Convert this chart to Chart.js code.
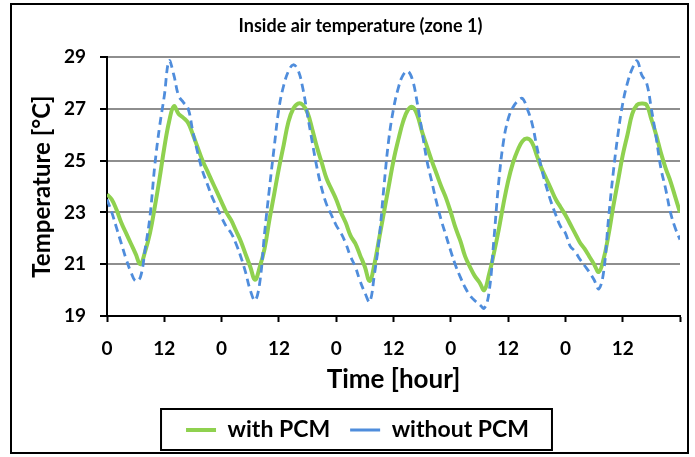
<!DOCTYPE html>
<html>
<head>
<meta charset="utf-8">
<title>Inside air temperature (zone 1)</title>
<script src="https://cdn.jsdelivr.net/npm/chart.js@4.4.1/dist/chart.umd.min.js"></script>
<style>
  html, body { margin: 0; padding: 0; background: #fff; }
  #wrap { width: 695px; height: 457px; }
</style>
</head>
<body>
<div id="wrap"><canvas id="tempChart" width="695" height="457"></canvas></div>
<script>
// hourly readings over five days
const hours = Array.from({ length: 121 }, (_, i) => i);

const withPCM = [
  23.7, 23.5, 23.1, 22.6, 22.2, 21.8, 21.4, 21.0, 21.5, 22.2,
  23.2, 24.3, 25.5, 26.5, 27.1, 26.8, 26.65, 26.45, 26.0, 25.5,
  25.0, 24.6, 24.2, 23.8, 23.4, 23.0, 22.7, 22.3, 21.9, 21.4,
  20.9, 20.4, 20.9, 21.6, 22.7, 23.7, 24.7, 25.6, 26.5, 27.0,
  27.2, 27.15, 26.85, 26.2, 25.5, 24.9, 24.3, 23.9, 23.5, 23.0,
  22.6, 22.1, 21.8, 21.35, 20.9, 20.35, 21.0, 22.0, 23.0, 24.0,
  25.0, 25.8, 26.5, 26.95, 27.07, 26.75, 26.1, 25.55, 25.0, 24.5,
  24.0, 23.55, 23.0, 22.4, 21.9, 21.3, 20.9, 20.55, 20.3, 20.0,
  20.6, 21.4, 22.3, 23.3, 24.2, 24.9, 25.4, 25.75, 25.85, 25.7,
  25.2, 24.7, 24.3, 23.9, 23.5, 23.2, 22.9, 22.55, 22.2, 21.85,
  21.6, 21.3, 21.0, 20.7, 21.2, 22.1, 23.2, 24.2, 25.2, 26.0,
  26.8, 27.15, 27.2, 27.15, 26.6, 26.0, 25.3, 24.7, 24.2, 23.6,
  23.0
];

const withoutPCM = [
  23.5, 23.0, 22.4, 21.8, 21.2, 20.7, 20.35, 20.5, 21.6, 22.85,
  24.8, 26.3, 27.5, 28.85, 28.3, 27.5, 27.25, 27.0, 26.1, 25.3,
  24.6, 24.1, 23.6, 23.2, 22.8, 22.45, 22.2, 21.8, 21.3, 20.7,
  20.0, 19.6, 20.3, 22.2, 23.9, 25.5, 27.0, 27.9, 28.45, 28.7,
  28.5, 27.8, 26.75, 25.7, 24.7, 23.9, 23.3, 22.9, 22.5, 22.2,
  21.8, 21.3, 20.9, 20.35, 19.9, 19.55, 20.6, 22.0, 24.0, 25.8,
  27.0, 27.8, 28.3, 28.45, 28.1, 27.2, 26.1, 25.0, 24.2, 23.4,
  22.7, 22.1, 21.5, 20.95, 20.5, 20.1, 19.8, 19.6, 19.45, 19.3,
  19.9, 21.9, 24.1, 25.7, 26.6, 27.05, 27.3, 27.4, 27.0, 26.45,
  25.55, 24.7, 24.0, 23.4, 22.9, 22.45, 22.2, 21.7, 21.5, 21.2,
  20.95, 20.7, 20.4, 20.05, 20.7, 22.7, 24.5, 26.0, 27.2, 28.0,
  28.55, 28.85, 28.3, 28.0, 27.0, 25.9, 24.7, 23.9, 23.0, 22.4,
  21.95
];

// label under every 12 h tick (last tick has none)
const xTickLabels = ['0', '12', '0', '12', '0', '12', '0', '12', '0', '12'];

Chart.defaults.font.family = 'Lato';
Chart.defaults.font.weight = 'bold';
Chart.defaults.color = '#000';

const framePlugin = {
  id: 'frame',
  afterLayout(chart) {
    // title and legend sit a little right of centre in the original
    chart.titleBlock.left += 13;
    chart.titleBlock.right += 13;
    chart.legend.left += 10;
    chart.legend.right += 10;
  },
  afterDraw(chart) {
    const ctx = chart.ctx;
    ctx.save();
    ctx.strokeStyle = '#000';
    ctx.lineWidth = 2;
    ctx.strokeRect(11, 4, 677, 449);
    const boxes = chart.legend.legendHitBoxes;
    const first = boxes[0], last = boxes[boxes.length - 1];
    const l = first.left - 25;
    const r = last.left + last.width + 23;
    ctx.strokeRect(l, 409, r - l, 41);
    ctx.restore();
  }
};

const ctx = document.getElementById('tempChart').getContext('2d');
const chart = new Chart(ctx, {
  type: 'line',
  data: {
    datasets: [{
      label: 'with PCM',
      data: hours.map((h, i) => ({ x: h, y: withPCM[i] })),
      borderColor: '#8fd14f',
      backgroundColor: '#8fd14f',
      borderWidth: 4,
      pointRadius: 0,
      tension: 0.4,
      order: 1
    }, {
      label: 'without PCM',
      data: hours.map((h, i) => ({ x: h, y: withoutPCM[i] })),
      borderColor: '#4f8ddc',
      backgroundColor: '#4f8ddc',
      borderWidth: 2.8,
      borderDash: [8, 5],
      pointRadius: 0,
      tension: 0.4,
      order: 0
    }]
  },
  options: {
    responsive: false,
    animation: false,
    devicePixelRatio: 1,
    layout: { padding: { left: 12, right: 12, top: 4, bottom: 5.5 } },
    scales: {
      x: {
        type: 'linear',
        min: 0,
        max: 120,
        afterFit: (s) => { s.height = 82.5; },
        afterBuildTicks: (s) => {
          s.ticks = hours.filter(h => h % 12 === 0).map(h => ({ value: h }));
        },
        ticks: {
          font: { size: 19, weight: 'bold' },
          padding: 15,
          maxRotation: 0,
          autoSkip: false,
          callback: (v) => xTickLabels[v / 12] || ''
        },
        grid: { drawOnChartArea: false, tickLength: 6, tickColor: '#000', tickWidth: 2 },
        border: { color: '#000', width: 2 },
        title: {
          display: true,
          text: 'Time [hour]',
          font: { size: 26, weight: 'bold' },
          padding: { top: 0, bottom: 3 }
        }
      },
      y: {
        min: 19,
        max: 29,
        afterFit: (s) => { s.width = 95; },
        ticks: { stepSize: 2, font: { size: 19, weight: 'bold' }, padding: 14 },
        grid: { color: '#8e8e8e', lineWidth: 2, tickLength: 7, tickColor: '#000', tickWidth: 2 },
        border: { color: '#000', width: 2 },
        title: {
          display: true,
          text: 'Temperature [°C]',
          font: { size: 24, weight: 'bold' },
          padding: { top: 16, bottom: 0 }
        }
      }
    },
    plugins: {
      title: {
        display: true,
        text: 'Inside air temperature (zone 1)',
        font: { size: 18, weight: 'bold' },
        padding: { top: 11.8, bottom: 19.6 }
      },
      legend: {
        position: 'bottom',
        labels: {
          font: { size: 23, weight: 'bold' },
          usePointStyle: true,
          pointStyle: 'line',
          pointStyleWidth: 30,
          padding: 20,
          sort: (a, b) => a.datasetIndex - b.datasetIndex
        }
      },
      tooltip: { enabled: false }
    }
  },
  plugins: [framePlugin]
});
</script>
</body>
</html>
